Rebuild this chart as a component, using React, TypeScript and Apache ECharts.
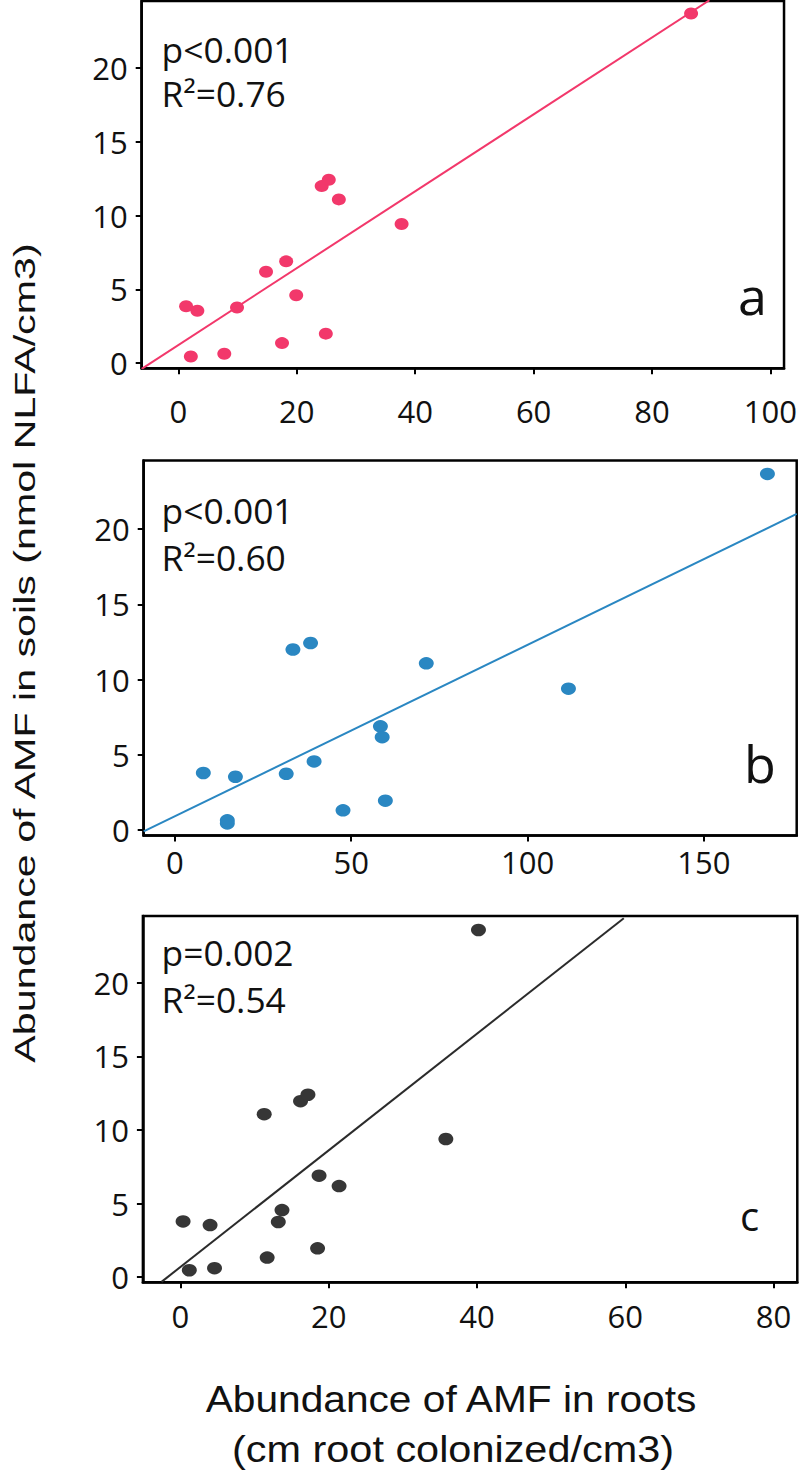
import React, { useEffect, useRef } from "react";
import * as echarts from "echarts";

// ---- data ----
// panel a
const aX = [86.6, 1.3, 3.2, 2.1, 7.75, 9.9, 14.8, 18.2, 17.5, 19.9, 24.2, 25.4, 27.1, 24.9, 37.7];
const aY = [23.7, 3.86, 3.55, 0.45, 0.64, 3.77, 6.2, 6.9, 1.36, 4.6, 12.0, 12.43, 11.1, 2.0, 9.43];
// panel b
const bX = [168.0, 8.1, 17.2, 14.9, 14.9, 31.6, 39.5, 33.5, 38.5, 71.3, 111.6, 58.3, 58.8, 47.7, 59.7];
const bY = [23.66, 3.8, 3.55, 0.45, 0.66, 3.75, 4.57, 12.0, 12.43, 11.08, 9.4, 6.9, 6.18, 1.32, 1.96];
// panel c
const cX = [40.2, 0.36, 4.0, 1.2, 4.6, 11.7, 13.2, 13.7, 18.5, 18.7, 21.4, 11.3, 16.2, 17.2, 35.8];
const cY = [23.6, 3.79, 3.54, 0.47, 0.61, 1.33, 3.75, 4.56, 1.96, 6.9, 6.19, 11.08, 11.96, 12.4, 9.39];

// fitted lines (endpoints)
const lineA = [[-6.2, -0.385], [89.7, 24.6]];
const lineB = [[-8.8, -0.08], [176.3, 21.0]];
const lineC = [[-2.55, -0.32], [59.8, 24.4]];

// ticks
const aTicks = [0, 20, 40, 60, 80, 100];
const bTicks = [0, 50, 100, 150];
const cTicks = [0, 20, 40, 60, 80];
const yTicks = [0, 5, 10, 15, 20];

// annotations
const statsA = ["p<0.001", "R²=0.76"];
const statsB = ["p<0.001", "R²=0.60"];
const statsC = ["p=0.002", "R²=0.54"];
const panelLetters = ["a", "b", "c"];

const yTitle = "Abundance of AMF in soils (nmol NLFA/cm3)";
const xTitle1 = "Abundance of AMF in roots";
const xTitle2 = "(cm root colonized/cm3)";

const COLORS = ["#f2386b", "#2a87c2", "#363636"];
const LINE_COLORS = ["#f2386b", "#2a87c2", "#2b2b2b"];

const Y_MIN = -0.35;
const Y_MAX = 24.55;

const TICK_FONT = "'Open Sans', 'Noto Sans', sans-serif";

function zip(xs: number[], ys: number[]) {
  return xs.map((x, i) => [x, ys[i]]);
}

export default function App() {
  const ref = useRef<HTMLDivElement>(null);

  useEffect(() => {
    if (!ref.current) return;
    const chart = echarts.init(ref.current, null, { renderer: "svg" });

    const grids = [
      { left: 141.7, top: 1, width: 643.6, height: 367.3 },
      { left: 143.7, top: 460.5, width: 653, height: 375 },
      { left: 142.9, top: 916, width: 654.4, height: 366.3 },
    ].map((g) => ({
      ...g,
      show: true,
      borderColor: "#000",
      borderWidth: 2.5,
      backgroundColor: "transparent",
    }));

    const xRanges = [
      [-6.2, 102.3],
      [-8.8, 176.3],
      [-5.06, 83.2],
    ];
    const xTickSets = [aTicks, bTicks, cTicks];
    const xMargins = [27, 11, 18];

    const xAxis = xRanges.map((r, i) => ({
      gridIndex: i,
      type: "value",
      min: r[0],
      max: r[1],
      axisLine: { show: true, onZero: false, lineStyle: { color: "#000", width: 2.5 } },
      axisTick: {
        show: true,
        customValues: xTickSets[i],
        length: 6,
        lineStyle: { color: "#000", width: 2 },
      },
      axisLabel: {
        customValues: xTickSets[i],
        margin: xMargins[i],
        color: "#111",
        fontSize: 31,
        fontFamily: TICK_FONT,
      },
      splitLine: { show: false },
    }));

    const yAxis = [0, 1, 2].map((i) => ({
      gridIndex: i,
      type: "value",
      min: Y_MIN,
      max: Y_MAX,
      axisLine: { show: true, onZero: false, lineStyle: { color: "#000", width: 2.5 } },
      axisTick: {
        show: true,
        customValues: yTicks,
        length: 6,
        lineStyle: { color: "#000", width: 2 },
      },
      axisLabel: {
        customValues: yTicks,
        margin: 14,
        color: "#111",
        fontSize: 31,
        fontFamily: TICK_FONT,
      },
      splitLine: { show: false },
    }));

    const pts = [zip(aX, aY), zip(bX, bY), zip(cX, cY)];
    const lines = [lineA, lineB, lineC];
    const sizes = [
      [14, 12],
      [15, 12.5],
      [15, 12.5],
    ];

    const series: any[] = [];
    for (let i = 0; i < 3; i++) {
      series.push({
        type: "line",
        xAxisIndex: i,
        yAxisIndex: i,
        data: lines[i],
        showSymbol: false,
        symbol: "none",
        clip: true,
        lineStyle: { color: LINE_COLORS[i], width: 2 },
        z: 2,
      });
      series.push({
        type: "scatter",
        xAxisIndex: i,
        yAxisIndex: i,
        data: pts[i],
        symbol: "circle",
        symbolSize: sizes[i],
        itemStyle: { color: COLORS[i], opacity: 1 },
        z: 3,
      });
    }

    const statSets = [statsA, statsB, statsC];
    const statYs = [
      [50, 94],
      [511, 558],
      [952.5, 999.7],
    ];
    const graphic: any[] = [];
    statSets.forEach((s, i) => {
      s.forEach((t, j) => {
        graphic.push({
          type: "text",
          x: 161.6,
          y: statYs[i][j],
          scaleX: 1.04,
          style: {
            text: t,
            font: `34px ${TICK_FONT}`,
            fill: "#111",
            textAlign: "left",
            textVerticalAlign: "middle",
          },
        });
      });
    });
    const letterPos = [
      { x: 738, y: 294, size: 52 },
      { x: 744, y: 762, size: 52 },
      { x: 740, y: 1215, size: 40 },
    ];
    panelLetters.forEach((l, i) => {
      graphic.push({
        type: "text",
        x: letterPos[i].x,
        y: letterPos[i].y,
        style: {
          text: l,
          font: `${letterPos[i].size}px ${TICK_FONT}`,
          fill: "#111",
          textAlign: "left",
          textVerticalAlign: "middle",
        },
      });
    });
    graphic.push({
      type: "text",
      x: 25,
      y: 653,
      rotation: Math.PI / 2,
      scaleX: 1.42,
      style: {
        text: yTitle,
        font: "29px 'Liberation Sans', Arial, sans-serif",
        fill: "#111",
        textAlign: "center",
        textVerticalAlign: "middle",
      },
    });
    graphic.push({
      type: "text",
      x: 451,
      y: 1399,
      scaleX: 1.1,
      style: {
        text: xTitle1,
        font: "37px 'Liberation Sans', Arial, sans-serif",
        fill: "#111",
        textAlign: "center",
        textVerticalAlign: "middle",
      },
    });
    graphic.push({
      type: "text",
      x: 453,
      y: 1449,
      scaleX: 1.12,
      style: {
        text: xTitle2,
        font: "37px 'Liberation Sans', Arial, sans-serif",
        fill: "#111",
        textAlign: "center",
        textVerticalAlign: "middle",
      },
    });

    chart.setOption({
      animation: false,
      backgroundColor: "#fff",
      grid: grids,
      xAxis,
      yAxis,
      series,
      graphic,
    });

    return () => chart.dispose();
  }, []);

  return (
    <div
      ref={ref}
      style={{ position: "absolute", left: 0, top: 0, width: 800, height: 1471 }}
    />
  );
}
